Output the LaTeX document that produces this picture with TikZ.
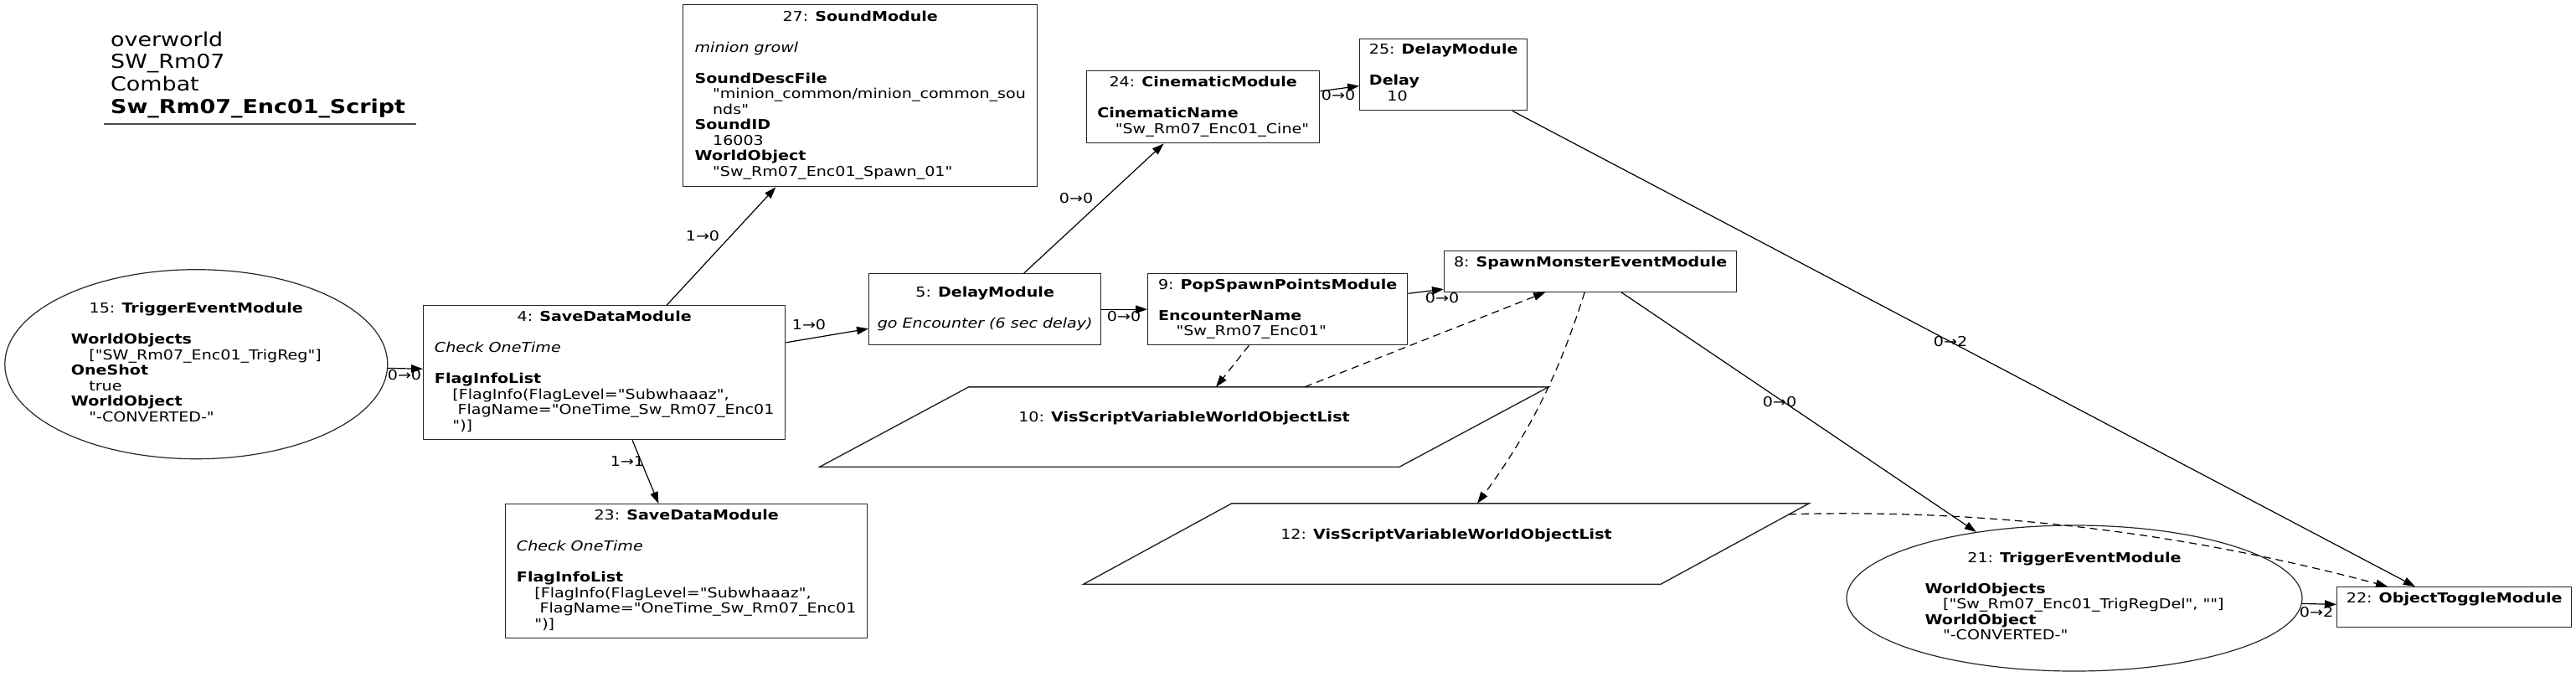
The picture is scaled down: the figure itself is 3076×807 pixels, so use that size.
\documentclass[tikz,border=0pt]{standalone}
\usepackage{fontspec}
\newfontfamily\dvs{DejaVu Sans}[FakeStretch=1.17,BoldFont={DejaVu Sans Bold},ItalicFont={DejaVu Sans Oblique},BoldItalicFont={DejaVu Sans Bold Oblique}]
\usetikzlibrary{arrows.meta,shapes.geometric,calc}
\newcommand{\ind}{\hspace*{21.5pt}}
\newcommand{\mtitle}[1]{\multicolumn{1}{@{}c@{}}{#1}}
\newcommand{\nfont}{\dvs\fontsize{16.3}{18.5}\selectfont}
\newcommand{\tfont}{\dvs\fontsize{23}{26.7}\selectfont}
\begin{document}
\begin{tikzpicture}[x=1pt,y=-1pt,
  mod/.style={draw=black!85,line width=1.4pt,rectangle,inner sep=0pt,anchor=north west,font=\nfont},
  oval/.style={draw=black!85,line width=1.2pt,ellipse,inner sep=0pt,font=\nfont},
  pbox/.style={rectangle,inner sep=0pt,font=\nfont},
  pgram/.style={draw=black!85,line width=1.4pt},
  lbl/.style={inner sep=0pt,font=\nfont},
  ttl/.style={inner sep=0pt,anchor=base west,font=\tfont},
  arr/.style={-{Triangle[length=14pt,width=9.5pt]},line width=1.2pt,black},
  dsh/.style={dash pattern=on 9pt off 6pt}]
\useasboundingbox (0,0) rectangle (3076,807);

% title block
\node[ttl] (t1) at (132,55) {overworld};
\node[ttl] (t2) at (132,81.7) {SW\_Rm07};
\node[ttl] (t3) at (132,108.4) {Combat};
\node[ttl] (t4) at (132,135.1) {\textbf{Sw\_Rm07\_Enc01\_Script}};
\draw[black!70,line width=1.5pt] (124,148) -- (497,148);

% nodes
\node[mod,minimum width=423pt,minimum height=217pt] (n27) at (815,5) {\begin{tabular}{@{}l@{}}
\mtitle{27: \textbf{SoundModule}}\\ ~\\
\textit{minion growl}\\ ~\\
\textbf{SoundDescFile}\\
\ind"minion\_common/minion\_common\_sou\\
\ind nds"\\
\textbf{SoundID}\\
\ind 16003\\
\textbf{WorldObject}\\
\ind"Sw\_Rm07\_Enc01\_Spawn\_01"
\end{tabular}};

\node[oval,minimum width=457pt,minimum height=226pt] (n15) at (234.3,434.7) {\begin{tabular}{@{}l@{}}
\mtitle{15: \textbf{TriggerEventModule}}\\ ~\\
\textbf{WorldObjects}\\
\ind["SW\_Rm07\_Enc01\_TrigReg"]\\
\textbf{OneShot}\\
\ind true\\
\textbf{WorldObject}\\
\ind"-CONVERTED-"
\end{tabular}};

\node[mod,minimum width=432pt,minimum height=160pt] (n4) at (505,364) {\begin{tabular}{@{}l@{}}
\mtitle{4: \textbf{SaveDataModule}}\\ ~\\
\textit{Check OneTime}\\ ~\\
\textbf{FlagInfoList}\\
\ind[FlagInfo(FlagLevel="Subwhaaaz",\\
\ind\ FlagName="OneTime\_Sw\_Rm07\_Enc01\\
\ind")]
\end{tabular}};

\node[mod,minimum width=432pt,minimum height=160pt] (n23) at (603,601) {\begin{tabular}{@{}l@{}}
\mtitle{23: \textbf{SaveDataModule}}\\ ~\\
\textit{Check OneTime}\\ ~\\
\textbf{FlagInfoList}\\
\ind[FlagInfo(FlagLevel="Subwhaaaz",\\
\ind\ FlagName="OneTime\_Sw\_Rm07\_Enc01\\
\ind")]
\end{tabular}};

\node[mod,minimum width=277pt,minimum height=85pt] (n5) at (1037,326) {\begin{tabular}{@{}l@{}}
\mtitle{5: \textbf{DelayModule}}\\ ~\\
\textit{go Encounter (6 sec delay)}
\end{tabular}};

\node[mod,minimum width=278pt,minimum height=86pt] (n24) at (1297,84) {\begin{tabular}{@{}l@{}}
\mtitle{24: \textbf{CinematicModule}}\\ ~\\
\textbf{CinematicName}\\
\ind"Sw\_Rm07\_Enc01\_Cine"
\end{tabular}};

\node[mod,minimum width=200pt,minimum height=85.5pt] (n25) at (1623,45.5) {\begin{tabular}{@{}l@{}}
\mtitle{25: \textbf{DelayModule}}\\ ~\\
\textbf{Delay}\\
\ind 10
\end{tabular}};

\node[mod,minimum width=310pt,minimum height=85pt] (n9) at (1370,326) {\begin{tabular}{@{}l@{}}
\mtitle{9: \textbf{PopSpawnPointsModule}}\\ ~\\
\textbf{EncounterName}\\
\ind"Sw\_Rm07\_Enc01"
\end{tabular}};

\node[mod,minimum width=349pt,minimum height=48.5pt] (n8) at (1724,299) {\begin{tabular}{@{}c@{}}
8: \textbf{SpawnMonsterEventModule}\\ ~
\end{tabular}};

\node[mod,minimum width=280pt,minimum height=48pt] (n22) at (2790,700) {\begin{tabular}{@{}c@{}}
22: \textbf{ObjectToggleModule}\\ ~
\end{tabular}};

\node[pbox,minimum width=870pt,minimum height=95pt] (n10) at (1414,509.5) {\begin{tabular}{@{}c@{}}
10: \textbf{VisScriptVariableWorldObjectList}\\ ~
\end{tabular}};
\draw[pgram] (n10.south west) -- ($(n10.north west)+(178,0)$) -- (n10.north east) -- ($(n10.south east)+(-178,0)$) -- cycle;

\node[pbox,minimum width=866pt,minimum height=96pt] (n12) at (1727,649) {\begin{tabular}{@{}c@{}}
12: \textbf{VisScriptVariableWorldObjectList}\\ ~
\end{tabular}};
\draw[pgram] (n12.south west) -- ($(n12.north west)+(177,0)$) -- (n12.north east) -- ($(n12.south east)+(-177,0)$) -- cycle;

\node[oval,minimum width=544pt,minimum height=174pt] (n21) at (2477,714) {\begin{tabular}{@{}l@{}}
\mtitle{21: \textbf{TriggerEventModule}}\\ ~\\
\textbf{WorldObjects}\\
\ind["Sw\_Rm07\_Enc01\_TrigRegDel", ""]\\
\textbf{WorldObject}\\
\ind"-CONVERTED-"
\end{tabular}};

% connectors
\draw[arr] (n15) -- (n4);
\draw[arr] (n4) -- (n27);
\draw[arr] (n4) -- (n5);
\draw[arr] (n4) -- (n23);
\draw[arr] (n5) -- (n24);
\draw[arr] (n5) -- (n9);
\draw[arr] (n24) -- (n25);
\draw[arr] (n9) -- (n8);
\draw[arr] (n8) -- (n21);
\draw[arr] (n25) -- (n22);
\draw[arr] (n21) -- (n22);
\draw[arr,dsh] (n9) -- (n10);
\draw[arr,dsh] ($(n10.north)+(144,0)$) -- ($(n8.south)+(-54,0)$);
\draw[arr,dsh] ($(n8.south)+(-7,0)$) .. controls +(-23,72) and +(75,-101) .. ($(n12.north)+(37,0)$);
\draw[arr,dsh] ($(n12.north east)+(-24,13)$) .. controls +(314,-9) and +(-151,-40) .. ($(n22.north west)+(61,0)$);

% connector labels
\node[lbl] (l1) at (483,448) {0→0};
\node[lbl] (l2) at (839,282) {1→0};
\node[lbl] (l3) at (966,388) {1→0};
\node[lbl] (l4) at (749,551) {1→1};
\node[lbl] (l5) at (1285,237) {0→0};
\node[lbl] (l6) at (1342,378) {0→0};
\node[lbl] (l7) at (1598,114) {0→0};
\node[lbl] (l8) at (1722,356) {0→0};
\node[lbl] (l9) at (2125,480) {0→0};
\node[lbl] (l10) at (2329,408) {0→2};
\node[lbl] (l11) at (2766,731) {0→2};
\end{tikzpicture}
\end{document}
